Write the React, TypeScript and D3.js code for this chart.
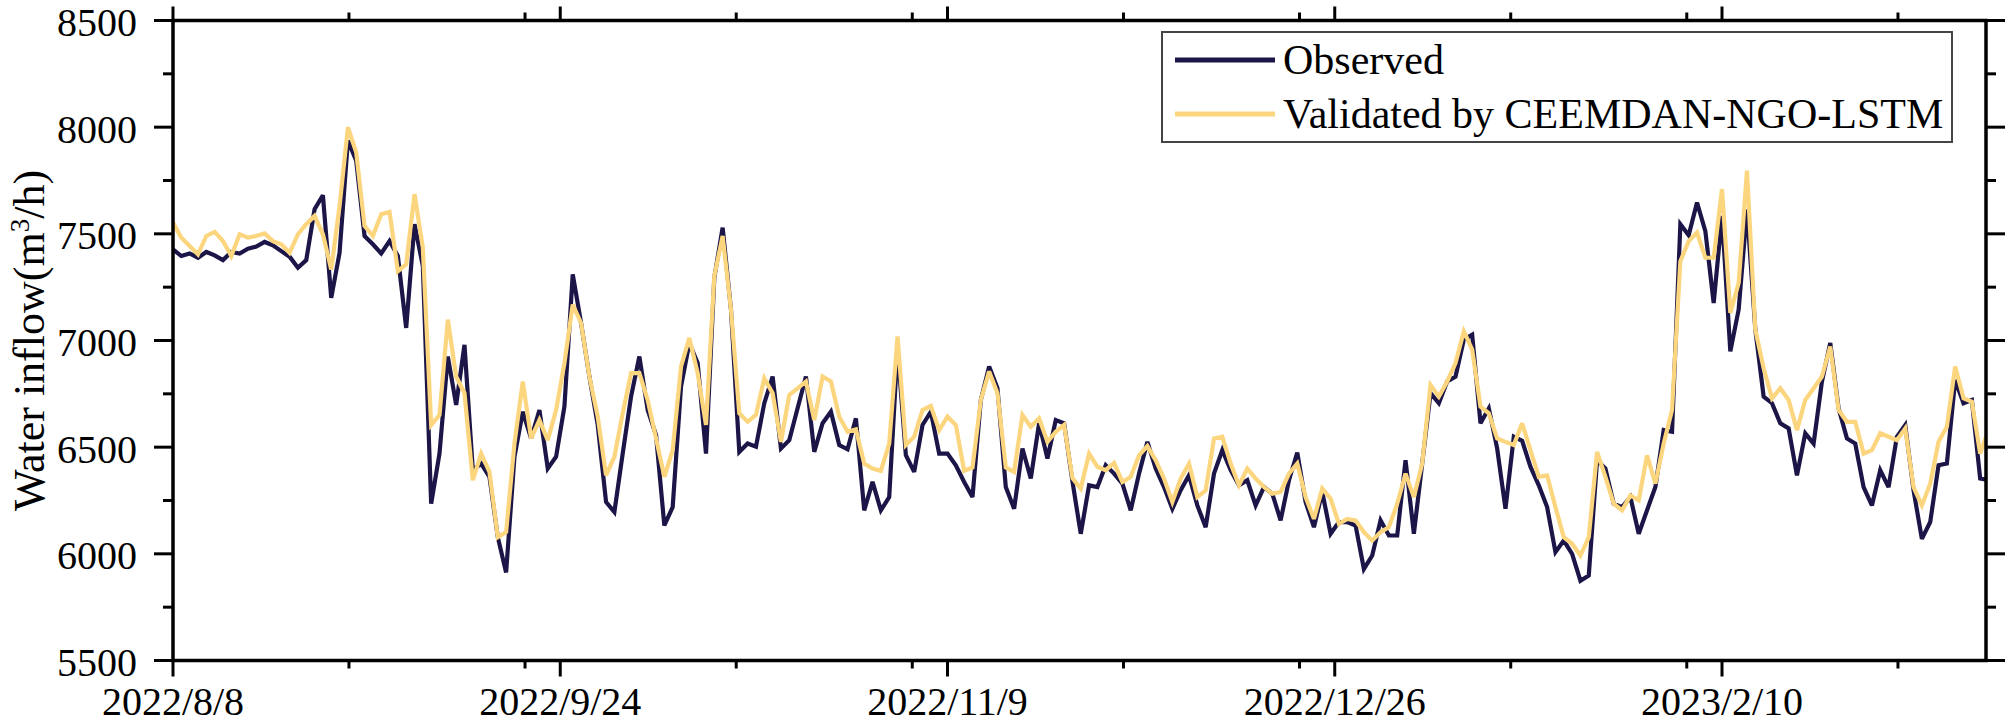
import React from "react";
import * as d3 from "d3";

// ---------------- data (daily, starting 2022/8/8) ----------------
const observed: number[] = [
  7427, 7396, 7408, 7388, 7415, 7399, 7377, 7415, 7408, 7430,
  7440, 7462, 7446, 7419, 7393, 7341, 7377, 7615, 7681, 7200,
  7411, 7937, 7843, 7490, 7451, 7408, 7466, 7396, 7059, 7545,
  7349, 6235, 6470, 6925, 6698, 6980, 6392, 6423, 6361, 6078,
  5913, 6455, 6666, 6541, 6674, 6400, 6455, 6690, 7310, 7082,
  6831, 6604, 6243, 6196, 6470, 6737, 6925, 6674, 6557, 6133,
  6219, 6784, 6988, 6894, 6470, 7294, 7529, 7145, 6478, 6517,
  6502, 6706, 6831, 6494, 6533, 6682, 6831, 6478, 6612, 6666,
  6510, 6490, 6635, 6204, 6337, 6204, 6266, 6964, 6462, 6384,
  6604, 6666, 6470, 6470, 6415, 6337, 6266, 6721, 6878, 6776,
  6313, 6211, 6494, 6353, 6612, 6447, 6627, 6612, 6340, 6094,
  6321, 6313, 6415, 6376, 6329, 6204, 6376, 6525, 6400, 6313,
  6211, 6298, 6368, 6227, 6125, 6376, 6486, 6392, 6321, 6345,
  6227, 6313, 6282, 6157, 6345, 6475, 6243, 6125, 6290, 6094,
  6149, 6149, 6133, 5929, 5992, 6157, 6086, 6086, 6439, 6094,
  6423, 6753, 6706, 6808, 6831, 7004, 7027, 6612, 6682, 6494,
  6211, 6549, 6530, 6408, 6321, 6219, 6008, 6062, 6000, 5874,
  5898, 6439, 6400, 6235, 6219, 6266, 6094, 6204, 6313, 6580,
  6572, 7545, 7493, 7647, 7513, 7176, 7584, 6949, 7145, 7615,
  7051, 6737, 6706, 6612, 6588, 6368, 6565, 6517, 6808, 6988,
  6682, 6541, 6517, 6313, 6227, 6392, 6313, 6549, 6604, 6298,
  6070, 6149, 6415, 6423, 6815, 6706, 6721, 6353, 6345,
];

const validated: number[] = [
  7553, 7482, 7443, 7404, 7490, 7509, 7466, 7396, 7498, 7482,
  7490, 7502, 7466, 7451, 7411, 7498, 7545, 7584, 7498, 7333,
  7631, 8000, 7882, 7537, 7490, 7592, 7603, 7325, 7357, 7686,
  7435, 6604, 6651, 7098, 6831, 6753, 6345, 6470, 6384, 6078,
  6102, 6517, 6808, 6541, 6627, 6533, 6674, 6894, 7168, 7082,
  6831, 6643, 6368, 6455, 6660, 6847, 6847, 6721, 6541, 6361,
  6486, 6878, 7012, 6847, 6604, 7302, 7490, 7145, 6659, 6619,
  6651, 6823, 6753, 6525, 6745, 6776, 6808, 6627, 6831, 6808,
  6643, 6572, 6583, 6423, 6400, 6389, 6517, 7019, 6510, 6549,
  6674, 6693, 6580, 6643, 6604, 6389, 6405, 6721, 6855, 6753,
  6405, 6384, 6651, 6596, 6635, 6525, 6572, 6604, 6355, 6306,
  6470, 6408, 6392, 6426, 6337, 6361, 6462, 6505, 6439, 6353,
  6243, 6353, 6423, 6266, 6298, 6541, 6549, 6423, 6321, 6400,
  6353, 6313, 6282, 6290, 6376, 6423, 6266, 6164, 6306, 6259,
  6141, 6164, 6157, 6102, 6062, 6102, 6125, 6235, 6376, 6266,
  6423, 6792, 6737, 6808, 6894, 7043, 6957, 6690, 6659, 6541,
  6525, 6510, 6612, 6486, 6361, 6368, 6219, 6078, 6047, 5992,
  6078, 6478, 6361, 6235, 6204, 6274, 6251, 6462, 6329, 6517,
  6674, 7372, 7466, 7506, 7388, 7388, 7710, 7129, 7270, 7796,
  7051, 6870, 6729, 6776, 6721, 6580, 6721, 6776, 6831, 6972,
  6674, 6619, 6619, 6470, 6486, 6565, 6549, 6533, 6588, 6313,
  6227, 6329, 6525, 6596, 6878, 6729, 6713, 6470, 6580,
];

// x axis: days since 2022/8/8
const xMajorTicks: number[] = [0, 46.5, 93, 139.5, 186];
const xMajorLabels: string[] = ["2022/8/8", "2022/9/24", "2022/11/9", "2022/12/26", "2023/2/10"];
const xMinorTicks: number[] = [21.13, 42.27, 67.63, 88.77, 114.13, 135.27, 160.63, 181.77, 207.13];
const yMajorTicks: number[] = [5500, 6000, 6500, 7000, 7500, 8000, 8500];
const yMinorTicks: number[] = [5750, 6250, 6750, 7250, 7750, 8250];

const seriesNames: string[] = ["Observed", "Validated by CEEMDAN-NGO-LSTM"];
const seriesColors: string[] = ["#1b1548", "#fcd67e"];

// ---------------- layout ----------------
const W = 2007;
const H = 725;
const L = 173;
const R = 1986;
const T = 20.5;
const B = 660.5;
const FONT = "'Liberation Serif', 'Times New Roman', serif";

export default function App() {
  const x = d3.scaleLinear().domain([0, 217.7]).range([L, R]);
  const y = d3.scaleLinear().domain([5500, 8500]).range([B, T]);

  const line = d3
    .line<number>()
    .x((_, i) => x(i))
    .y((d) => y(d));

  const series = [observed, validated];
  const axisW = 3.5;
  const majorLen = 16;
  const minorLen = 8;
  const yMajorLen = 19;
  const yMinorLen = 10;

  return (
    <svg
      width={W}
      height={H}
      style={{ position: "absolute", left: 0, top: 0, background: "#fff" }}
      fontFamily={FONT}
    >
      <rect x={0} y={0} width={W} height={H} fill="#fff" />
      <defs>
        <clipPath id="plotClip">
          <rect x={L} y={T} width={R - L} height={B - T} />
        </clipPath>
      </defs>

      {/* data lines */}
      <g clipPath="url(#plotClip)">
        {series.map((s, k) => (
          <path
            key={k}
            d={line(s) || ""}
            fill="none"
            stroke={seriesColors[k]}
            strokeWidth={4.2}
            strokeLinejoin="miter"
            strokeMiterlimit={3}
          />
        ))}
      </g>

      {/* frame */}
      <rect x={L} y={T} width={R - L} height={B - T} fill="none" stroke="#000" strokeWidth={axisW} />

      {/* x ticks bottom and top */}
      {xMajorTicks.map((t, i) => (
        <g key={"xm" + i}>
          <line x1={x(t)} x2={x(t)} y1={B} y2={B + majorLen} stroke="#000" strokeWidth={3} />
          <line x1={x(t)} x2={x(t)} y1={T} y2={T - majorLen + 2} stroke="#000" strokeWidth={3} />
          <text x={x(t)} y={715} textAnchor="middle" fontSize={40} fill="#000">
            {xMajorLabels[i]}
          </text>
        </g>
      ))}
      {xMinorTicks.map((t, i) => (
        <g key={"xn" + i}>
          <line x1={x(t)} x2={x(t)} y1={B} y2={B + minorLen} stroke="#000" strokeWidth={3} />
          <line x1={x(t)} x2={x(t)} y1={T} y2={T - minorLen} stroke="#000" strokeWidth={3} />
        </g>
      ))}

      {/* y ticks left and right */}
      {yMajorTicks.map((t, i) => (
        <g key={"ym" + i}>
          <line x1={L - yMajorLen} x2={L} y1={y(t)} y2={y(t)} stroke="#000" strokeWidth={3} />
          <line x1={R} x2={R + yMajorLen} y1={y(t)} y2={y(t)} stroke="#000" strokeWidth={3} />
          <text x={137} y={y(t) + 15.5} textAnchor="end" fontSize={40} fill="#000">
            {t}
          </text>
        </g>
      ))}
      {yMinorTicks.map((t, i) => (
        <g key={"yn" + i}>
          <line x1={L - yMinorLen} x2={L} y1={y(t)} y2={y(t)} stroke="#000" strokeWidth={3} />
          <line x1={R} x2={R + yMinorLen} y1={y(t)} y2={y(t)} stroke="#000" strokeWidth={3} />
        </g>
      ))}

      {/* y title */}
      <text
        transform={`translate(44, ${(T + B) / 2}) rotate(-90)`}
        textAnchor="middle"
        fontSize={44}
        fill="#000"
      >
        Water inflow(m<tspan baselineShift="super" fontSize={27}>3</tspan>/h)
      </text>

      {/* legend */}
      <rect x={1162} y={32} width={790} height={110} fill="#fff" stroke="#444" strokeWidth={2} />
      {seriesNames.map((n, k) => (
        <g key={"lg" + k}>
          <line
            x1={1175}
            x2={1275}
            y1={60 + k * 54}
            y2={60 + k * 54}
            stroke={seriesColors[k]}
            strokeWidth={5}
          />
          <text x={1283} y={74 + k * 54} fontSize={42} fill="#000">
            {n}
          </text>
        </g>
      ))}
    </svg>
  );
}
